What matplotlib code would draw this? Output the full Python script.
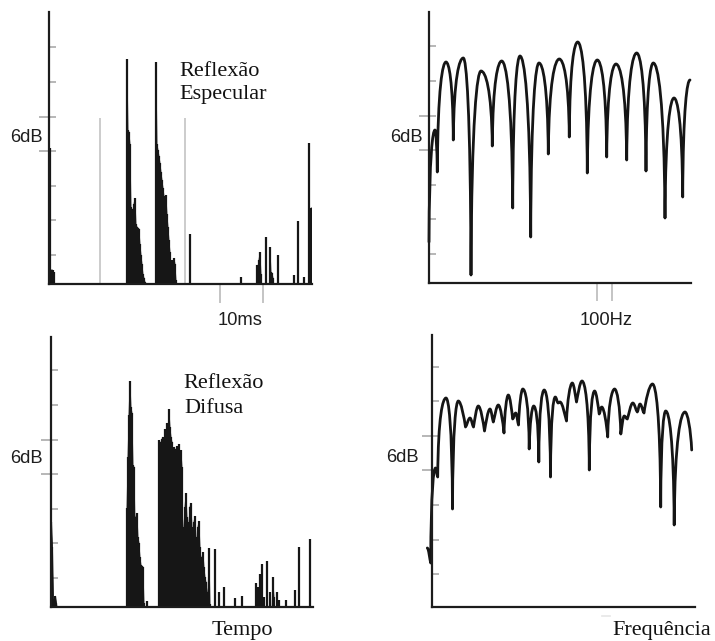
import matplotlib
matplotlib.use("Agg")
import matplotlib.pyplot as plt
from matplotlib.path import Path
from matplotlib.patches import PathPatch

W, H = 715, 641

# resposta impulsiva - reflexao especular (tempo, nivel)
t_esp = [0.5, 1.5, 2.5, 3.5, 4.5,
         78, 79, 80, 81, 82, 83, 84, 85, 86, 87, 88, 89, 90, 91, 92, 93, 94, 95, 96,
         107, 108, 109, 110, 111, 112, 113, 114, 115, 116, 117, 118, 119, 120, 121,
         122, 123, 124, 125, 126, 127,
         141, 191.7, 208, 209, 210, 211, 212, 217, 221, 222, 223, 224, 229,
         245, 249, 255, 260, 262, 263]
a_esp = [136, 14, 14, 14, 12,
         225, 154, 152, 140, 77, 75, 72, 80, 86, 60, 57, 56, 55, 40, 29, 20, 10, 6, 2,
         222, 140, 134, 128, 121, 112, 104, 96, 88, 80, 89, 70, 57, 44, 32,
         18, 24, 10, 26, 20, 4,
         50, 7, 19, 17, 24, 32, 10, 47, 37, 12, 11, 6, 29,
         9, 63, 7, 141, 76, 76]

# resposta impulsiva - reflexao difusa
t_dif = [0.5, 1.5, 2.5, 3.5, 4.5, 5.5,
         76, 77, 78, 79, 80, 81, 82, 83, 84, 85, 86, 87, 88, 89, 90, 91, 92, 93,
         96.3,
         108, 109, 110, 111, 112, 113, 114, 115, 116, 117, 118, 119, 120, 121, 122,
         123, 124, 125, 126, 127, 128, 129, 130, 131, 132, 133, 134, 135, 136, 137,
         138, 139, 140, 141, 142, 143, 144, 145, 146, 147, 148, 149, 150, 151, 152,
         153, 154, 155, 156, 157, 158, 159,
         164, 168, 173.3, 184, 190.7, 205, 207, 209, 211.3, 213, 215.7, 219, 221.7,
         223, 225.7, 228.3, 234.7, 244, 247.7, 259]
a_dif = [85, 60, 8, 6, 11, 4,
         99, 150, 192, 226, 200, 194, 142, 140, 84, 90, 94, 70, 64, 50, 42, 41, 40, 4,
         6,
         167, 150, 165, 168, 170, 160, 178, 172, 184, 176, 198, 180, 170, 165, 150,
         160, 158, 150, 161, 155, 163, 150, 157, 140, 60, 80, 100, 114, 90, 70,
         85, 100, 104, 80, 70, 85, 91, 70, 65, 80, 86, 60, 45, 50, 55,
         40, 30, 25, 15, 10, 59, 3,
         58, 15, 20, 9, 11, 24, 20, 33, 43, 10, 46, 15, 30,
         10, 15, 7, 7, 17, 60, 68]

# resposta em frequencia (maximos e minimos alternados)
f_esp_x = [0, 6, 8.3, 17, 24.3, 34.3, 42, 52, 63.3, 72.7, 83.7, 91, 101.7, 110,
           119.3, 130.3, 140.3, 148.7, 158.3, 168.3, 177.7, 187, 197.7, 207.7,
           217, 224.3, 236, 245, 253.7, 261]
f_esp_y = [41, 153, 111, 221, 143, 225, 8, 212, 137, 222, 75, 227, 46, 220,
           129, 224, 146, 241, 110, 223, 126, 219, 123, 230,
           112, 220, 65, 185, 86, 203]

f_dif_x = [-4.7, -1.3, 3.5, 5.7, 14, 20.5, 26.3, 33.5, 38, 41.5, 46.3, 52.5, 58,
           61.3, 66.3, 72, 76.3, 80.7, 83.7, 86.5, 90.8, 97.2, 101.7, 106.8, 112.2,
           118.5, 123.3, 126, 128, 134.5, 140.3, 144.5, 150, 157.3, 162.6, 167.2,
           169.7, 175.7, 182.6, 188.8, 192.2, 195.3, 200.8, 205.3, 208, 212,
           220.5, 228.7, 233.7, 242.2, 253, 259.7]
f_dif_y = [59, 44, 139, 130, 209, 98, 206, 180, 189, 180, 201, 176, 198,
           185, 202, 174, 212, 188, 194, 182, 218, 158, 201, 145, 217,
           130, 210, 204, 205, 186, 224, 205, 226, 137, 216, 193,
           200, 170, 218, 173, 191, 188, 204, 195, 203, 194,
           223, 100, 196, 82, 195, 157]

ticks_a = [29, 64, 98, 133, 167, 202, 237]
ticks_b = [33, 67, 102, 137, 171, 206, 240]

plt.rcParams['font.family'] = ['Liberation Sans', 'DejaVu Sans']
fig = plt.figure(figsize=(W / 100, H / 100), dpi=100)
fig.patch.set_facecolor('white')

AX_C = '#1c1c1c'
TICK_C = '#a3a3a3'


def painel(x0, x1, ytop, ybase, ticks):
    ax = fig.add_axes([x0 / W, 1 - ybase / H, (x1 - x0) / W, (ybase - ytop) / H])
    ax.set_xlim(0, x1 - x0)
    ax.set_ylim(0, ybase - ytop)
    ax.set_xticks([])
    ax.set_yticks([])
    ax.patch.set_alpha(0)
    for s in ['top', 'right']:
        ax.spines[s].set_visible(False)
    for s in ['left', 'bottom']:
        ax.spines[s].set_linewidth(1.6)
        ax.spines[s].set_color(AX_C)
        ax.spines[s].set_zorder(5)
    for i, yv in enumerate(ticks):
        xa = -10 if i in (3, 4) else 0
        ax.plot([xa, 7], [yv, yv], color=TICK_C, lw=1.1, clip_on=False, zorder=1,
                solid_capstyle='butt')
    return ax


def impulso(ax, t, a):
    ax.vlines(t, 0, a, color='#161616', lw=1.6, zorder=3)
    grupo = [0]
    for i in range(1, len(t) + 1):
        if i < len(t) and t[i] - t[i - 1] <= 1.6:
            grupo.append(i)
            continue
        if len(grupo) > 1:
            xs = [t[grupo[0]] - 0.5] + [t[k] for k in grupo] + [t[grupo[-1]] + 0.5]
            ys = [0] + [a[k] for k in grupo] + [0]
            ax.fill(xs, ys, color='#161616', lw=0.6, zorder=3)
        grupo = [i]


def curva(ax, xs, ys):
    # cada troco: do minimo (cuspide) ao maximo (arco arredondado)
    verts = [(xs[0], ys[0])]
    codes = [Path.MOVETO]
    for x0, y0, x1, y1 in zip(xs[:-1], ys[:-1], xs[1:], ys[1:]):
        dx, dy = x1 - x0, y1 - y0
        s = min(1.0, abs(dy) / 55.0)
        kx = 0.33 * (1 - s) + 0.06 * s
        ky = 0.78 * s
        if dy > 0:
            c1 = (x0 + kx * dx, y0 + ky * dy)
            c2 = (x0 + 0.62 * dx, y1)
        else:
            c1 = (x1 - 0.62 * dx, y0)
            c2 = (x1 - kx * dx, y1 - ky * dy)
        verts += [c1, c2, (x1, y1)]
        codes += [Path.CURVE4] * 3
    ax.add_patch(PathPatch(Path(verts, codes), fill=False, ec='#151515', lw=2.0,
                           clip_on=False, zorder=4, capstyle='round', joinstyle='round'))


# painel 1 - especular, tempo
ax1 = painel(49, 312, 12, 284, ticks_a)
ax1.vlines([51, 136], 0, 166, color='#cccccc', lw=1.4, zorder=2)
for xv in [171, 214]:
    ax1.plot([xv, xv], [0, -18], color='#c4c4c4', lw=1.4, clip_on=False)
impulso(ax1, t_esp, a_esp)

# painel 2 - especular, frequencia
ax2 = painel(429, 691, 12, 283, ticks_a)
for xv in [168, 183]:
    ax2.plot([xv, xv], [0, -17], color='#c4c4c4', lw=1.4, clip_on=False)
curva(ax2, f_esp_x, f_esp_y)

# painel 3 - difusa, tempo
ax3 = painel(51, 313, 337, 607, ticks_a)
impulso(ax3, t_dif, a_dif)

# painel 4 - difusa, frequencia
ax4 = painel(432, 695, 335, 607, ticks_b)
ax4.plot([170, 178], [-9, -9], color='#e6e6e6', lw=1.2, clip_on=False)
curva(ax4, f_dif_x, f_dif_y)


def txt(x, y, s, serif=False, ha='left'):
    if serif:
        fig.text(x / W, 1 - y / H, s, fontsize=16, ha=ha, va='baseline',
                 family=['Liberation Serif', 'DejaVu Serif'], color='#111111')
    else:
        fig.text(x / W, 1 - y / H, s, fontsize=13.2, ha=ha, va='baseline',
                 color='#1e1e1e')


txt(10, 141.5, '6dB')
txt(390, 141.5, '6dB')
txt(10, 463, '6dB')
txt(386, 462.5, '6dB')
txt(240.5, 325, '10ms', ha='center')
txt(606, 325, '100Hz', ha='center')
txt(179, 76, 'Reflexão', serif=True)
txt(179, 99, 'Especular', serif=True)
txt(183, 388, 'Reflexão', serif=True)
txt(184, 413, 'Difusa', serif=True)
txt(242, 635, 'Tempo', serif=True, ha='center')
txt(662, 635, 'Frequência', serif=True, ha='center')

fig.savefig('out.png', dpi=100, facecolor='white')
